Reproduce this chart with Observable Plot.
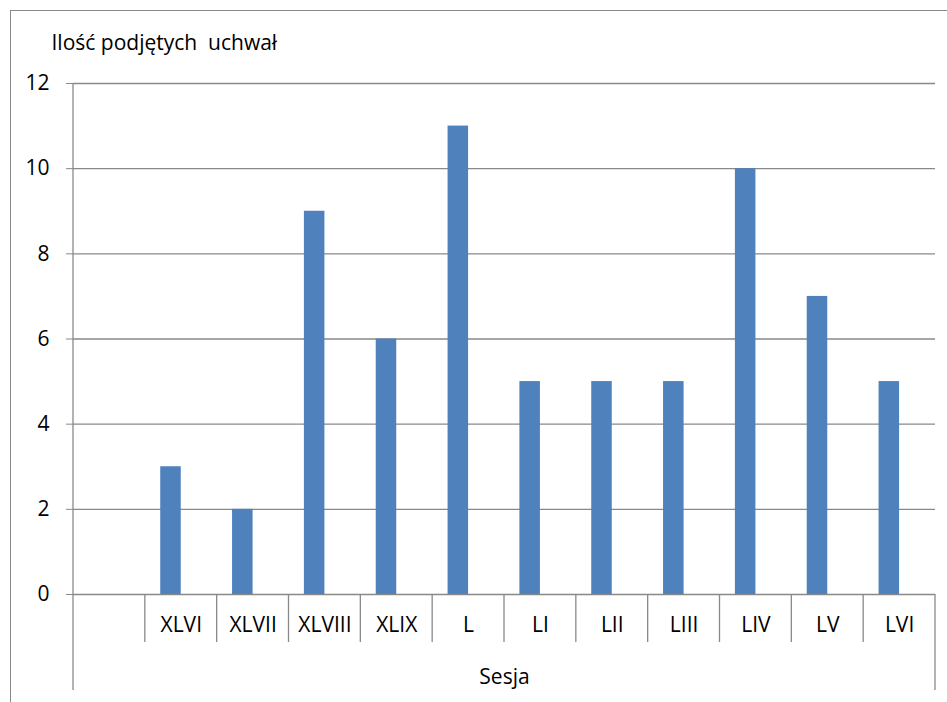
<!DOCTYPE html>
<html>
<head>
<meta charset="utf-8">
<script src="https://cdn.jsdelivr.net/npm/d3@7"></script>
<script src="https://cdn.jsdelivr.net/npm/@observablehq/plot@0.6"></script>
<style>
  body { margin: 0; background: #fff; }
  svg { font-family: "Open Sans", sans-serif; }
</style>
</head>
<body>
<div id="chart"></div>
<script>
// Data
const sessions = ["", "XLVI", "XLVII", "XLVIII", "XLIX", "L", "LI", "LII", "LIII", "LIV", "LV", "LVI"];
const resolutions = [null, 3, 2, 9, 6, 11, 5, 5, 5, 10, 7, 5];
const yTicks = [0, 2, 4, 6, 8, 10, 12];
const titleText = "Ilość podjętych\u00a0 uchwał";
const axisTitle = "Sesja";

const data = sessions.map((s, i) => ({session: s, value: resolutions[i]})).filter(d => d.value != null);

const W = 947, H = 702;
const mL = 73, mR = 12, mT = 83, mB = 108;
const step = (W - mL - mR) / sessions.length;
const gray = "#898989";
const fs = 21;

const plot = Plot.plot({
  width: W,
  height: H,
  marginLeft: mL,
  marginRight: mR,
  marginTop: mT,
  marginBottom: mB,
  style: {fontSize: fs + "px", fontFamily: "'Open Sans', sans-serif", color: "#000", background: "#fff", overflow: "visible"},
  x: {type: "band", domain: sessions, padding: 0, round: false, axis: null},
  y: {domain: [0, 12], axis: null},
  marks: [
    Plot.frame({stroke: gray, insetLeft: -63, insetTop: -73, insetRight: -40, insetBottom: -140}),
    Plot.gridY(yTicks, {stroke: gray, strokeOpacity: 1, strokeWidth: 1.3}),
    Plot.axisY({ticks: yTicks, tickSize: 7, tickPadding: 17, stroke: gray, fill: "#000", fontSize: fs, label: null}),
    Plot.barY(data, {x: "session", y: "value", fill: "#4F81BD", insetLeft: step * 0.75 / 3.5, insetRight: step * 0.5}),
    Plot.axisX(sessions.slice(1), {tickSize: 0, tickPadding: 23, fill: "#000", fontSize: fs, label: null}),
    Plot.text([axisTitle], {frameAnchor: "bottom", dy: 83, lineAnchor: "middle", fill: "#000", fontSize: fs}),
    Plot.text([titleText], {frameAnchor: "top-left", dx: -22, dy: -40, textAnchor: "start", lineAnchor: "middle", fill: "#000", fontSize: fs})
  ]
});

// Multi-level category axis lines drawn from the plot's own scales
const xs = plot.scale("x");
const ys = plot.scale("y");
const y0 = ys.apply(0);
const yTop = ys.apply(12);
const svg = d3.select(plot);
const g = svg.append("g").attr("stroke", gray).attr("stroke-width", 1.3);
const xStart = xs.apply(sessions[0]);
const xEnd = xs.apply(sessions[sessions.length - 1]) + xs.bandwidth;
// y axis line (extends through the group-label row)
g.append("line").attr("x1", xStart).attr("x2", xStart).attr("y1", yTop).attr("y2", y0 + 96);
// right end of the category axis
g.append("line").attr("x1", xEnd).attr("x2", xEnd).attr("y1", y0).attr("y2", y0 + 96);
// dividers between categories
sessions.slice(1).forEach(s => {
  const x = xs.apply(s);
  g.append("line").attr("x1", x).attr("x2", x).attr("y1", y0).attr("y2", y0 + 48);
});

document.getElementById("chart").appendChild(plot);
</script>
</body>
</html>
